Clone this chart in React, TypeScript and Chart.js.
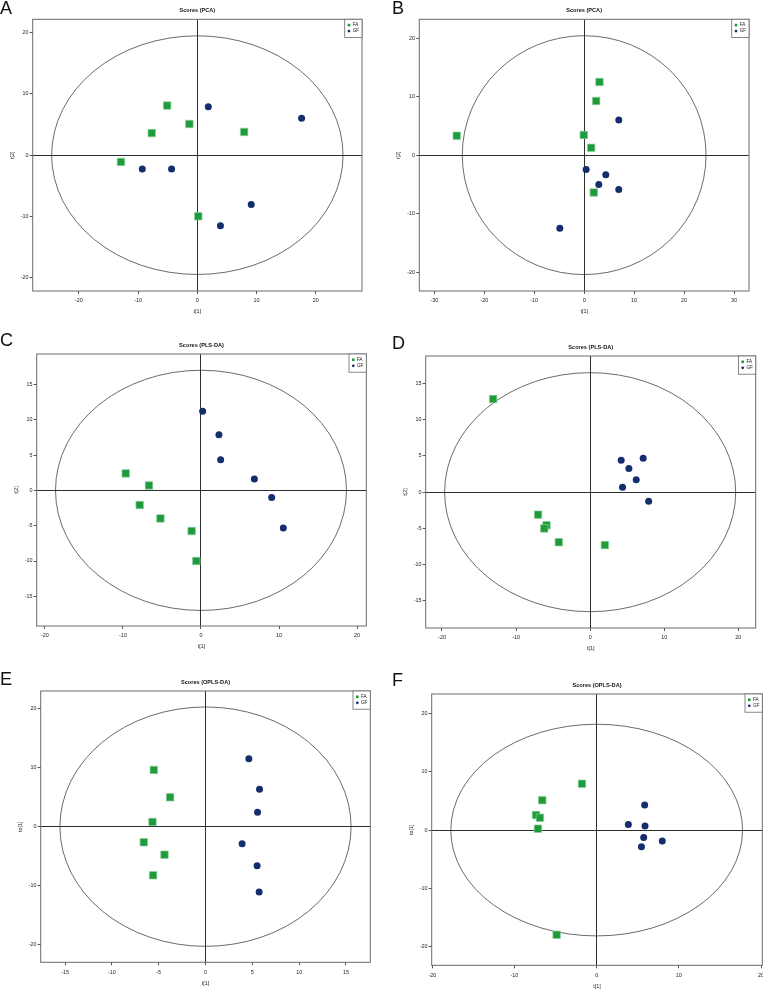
import React, { useEffect, useRef } from 'react';
import { Chart, registerables } from 'chart.js';
Chart.register(...registerables);

// ---------------- DATA ----------------
const SERIES = ['FA', 'GF'];

// Panel A: Scores (PCA)
const aFaT1 = [-5.1, -1.35, -7.7, 7.9, -12.9, 0.15];
const aFaT2 = [8.1, 5.1, 3.6, 3.8, -1.1, -10.0];
const aGfT1 = [1.85, 17.6, -9.3, -4.35, 9.1, 3.9];
const aGfT2 = [7.9, 6.05, -2.25, -2.25, -8.07, -11.55];
const aXLim = [-27.8, 27.8];
const aYLim = [-22.2, 22.2];
const aXTicks = [-20, -10, 0, 10, 20];
const aYTicks = [-20, -10, 0, 10, 20];
const aEllipse = [24.6, 19.5];

// Panel B: Scores (PCA)
const bFaT1 = [-25.5, 3.07, 2.4, -0.07, 1.4, 1.93];
const bFaT2 = [3.3, 12.5, 9.25, 3.45, 1.25, -6.37];
const bGfT1 = [6.93, 0.4, 4.33, 2.93, 6.93, -4.87];
const bGfT2 = [6.0, -2.45, -3.36, -5.0, -5.85, -12.5];
const bXLim = [-33, 33];
const bYLim = [-23.2, 23.2];
const bXTicks = [-30, -20, -10, 0, 10, 20, 30];
const bYTicks = [-20, -10, 0, 10, 20];
const bEllipse = [24.4, 20.4];

// Panel C: Scores (PLS-DA)
const cFaT1 = [-9.65, -6.67, -7.86, -5.2, -1.2, -0.6];
const cFaT2 = [2.4, 0.7, -2.08, -3.97, -5.76, -10.0];
const cGfT1 = [0.21, 2.3, 2.52, 6.84, 9.06, 10.55];
const cGfT2 = [11.18, 7.87, 4.33, 1.6, -1.0, -5.33];
const cXLim = [-21.06, 21.19];
const cYLim = [-19.2, 19.3];
const cXTicks = [-20, -10, 0, 10, 20];
const cYTicks = [-15, -10, -5, 0, 5, 10, 15];
const cEllipse = [18.65, 17.0];

// Panel D: Scores (PLS-DA)
const dFaT1 = [-13.1, -7.03, -5.9, -6.2, -4.23, 1.99];
const dFaT2 = [12.85, -3.1, -4.56, -5.0, -6.9, -7.3];
const dGfT1 = [4.19, 7.16, 5.23, 6.22, 4.37, 7.9];
const dGfT2 = [4.42, 4.7, 3.26, 1.7, 0.69, -1.24];
const dXLim = [-22.2, 22.35];
const dYLim = [-18.75, 18.8];
const dXTicks = [-20, -10, 0, 10, 20];
const dYTicks = [-15, -10, -5, 0, 5, 10, 15];
const dEllipse = [19.65, 16.5];

// Panel E: Scores (OPLS-DA)
const eFaT1 = [-5.52, -3.78, -5.66, -6.59, -4.38, -5.6];
const eFaTo = [9.6, 4.97, 0.8, -2.64, -4.74, -8.22];
const eGfT1 = [4.63, 5.77, 5.56, 3.91, 5.51, 5.73];
const eGfTo = [11.5, 6.33, 2.43, -2.88, -6.6, -11.05];
const eXLim = [-17.6, 17.6];
const eYLim = [-22.95, 22.95];
const eXTicks = [-15, -10, -5, 0, 5, 10, 15];
const eYTicks = [-20, -10, 0, 10, 20];
const eEllipse = [15.55, 20.25];

// Panel F: Scores (OPLS-DA)
const fFaT1 = [-1.79, -6.62, -7.38, -6.9, -7.14, -4.87];
const fFaTo = [7.96, 5.15, 2.58, 2.12, 0.23, -18.0];
const fGfT1 = [5.84, 3.85, 5.88, 5.72, 7.98, 5.45];
const fGfTo = [4.3, 0.97, 0.69, -1.26, -1.89, -2.86];
const fXLim = [-20.07, 20.15];
const fYLim = [-23.25, 23.4];
const fXTicks = [-20, -10, 0, 10, 20];
const fYTicks = [-20, -10, 0, 10, 20];
const fEllipse = [17.75, 18.2];

// ---------------- STYLE / LAYOUT ----------------
const FONT = '"Liberation Sans", Arial, Helvetica, sans-serif';
const GREEN = '#1f9a3c';
const GREEN_EDGE = '#8fd09c';
const NAVY = '#142d6c';

type Box = { l: number; t: number; r: number; b: number };
type Spec = {
  letter: string;
  letterPos: [number, number];
  title: string;
  xLabel: string;
  yLabel: string;
  faX: number[]; faY: number[]; gfX: number[]; gfY: number[];
  xLim: number[]; yLim: number[]; xTicks: number[]; yTicks: number[];
  ellipse: number[];
  box: Box;
};

const PANELS: Spec[] = [
  { letter: 'A', letterPos: [0, 1.5], title: 'Scores (PCA)', xLabel: 't[1]', yLabel: 't[2]',
    faX: aFaT1, faY: aFaT2, gfX: aGfT1, gfY: aGfT2, xLim: aXLim, yLim: aYLim, xTicks: aXTicks, yTicks: aYTicks,
    ellipse: aEllipse, box: { l: 32.7, t: 19.3, r: 362, b: 291 } },
  { letter: 'B', letterPos: [392, 1.5], title: 'Scores (PCA)', xLabel: 't[1]', yLabel: 't[2]',
    faX: bFaT1, faY: bFaT2, gfX: bGfT1, gfY: bGfT2, xLim: bXLim, yLim: bYLim, xTicks: bXTicks, yTicks: bYTicks,
    ellipse: bEllipse, box: { l: 419.3, t: 19.3, r: 749, b: 291 } },
  { letter: 'C', letterPos: [0, 333], title: 'Scores (PLS-DA)', xLabel: 't[1]', yLabel: 't[2]',
    faX: cFaT1, faY: cFaT2, gfX: cGfT1, gfY: cGfT2, xLim: cXLim, yLim: cYLim, xTicks: cXTicks, yTicks: cYTicks,
    ellipse: cEllipse, box: { l: 36.7, t: 354, r: 366.3, b: 626 } },
  { letter: 'D', letterPos: [392, 336], title: 'Scores (PLS-DA)', xLabel: 't[1]', yLabel: 't[2]',
    faX: dFaT1, faY: dFaT2, gfX: dGfT1, gfY: dGfT2, xLim: dXLim, yLim: dYLim, xTicks: dXTicks, yTicks: dYTicks,
    ellipse: dEllipse, box: { l: 425.7, t: 356, r: 755.7, b: 628 } },
  { letter: 'E', letterPos: [0, 672], title: 'Scores (OPLS-DA)', xLabel: 't[1]', yLabel: 'to[1]',
    faX: eFaT1, faY: eFaTo, gfX: eGfT1, gfY: eGfTo, xLim: eXLim, yLim: eYLim, xTicks: eXTicks, yTicks: eYTicks,
    ellipse: eEllipse, box: { l: 40.7, t: 691, r: 370.3, b: 962.3 } },
  { letter: 'F', letterPos: [392, 673], title: 'Scores (OPLS-DA)', xLabel: 't[1]', yLabel: 'to[1]',
    faX: fFaT1, faY: fFaTo, gfX: fGfT1, gfY: fGfTo, xLim: fXLim, yLim: fYLim, xTicks: fXTicks, yTicks: fYTicks,
    ellipse: fEllipse, box: { l: 431.7, t: 694, r: 762.3, b: 965.3 } },
];

const TICK_FONT = { family: FONT, size: 5.4 };

function Panel({ spec }: { spec: Spec }) {
  const ref = useRef<HTMLCanvasElement>(null);
  const { box } = spec;
  const cl = Math.floor(box.l - 36);
  const ct = Math.floor(box.t - 22);
  const cw = Math.ceil(box.r + 6) - cl;
  const ch = Math.ceil(box.b + 28) - ct;
  const yAxisW = box.l - cl;
  const topPad = box.t - ct;
  const rightPad = cl + cw - box.r;
  const xAxisH = ct + ch - box.b;

  useEffect(() => {
    const canvas = ref.current;
    if (!canvas) return;
    const decor = {
      id: 'decor',
      beforeDatasetsDraw(chart: any) {
        const { ctx, chartArea: a, scales } = chart;
        const x = scales.x, y = scales.y;
        const cx = x.getPixelForValue(0), cy = y.getPixelForValue(0);
        const rx = Math.abs(x.getPixelForValue(spec.ellipse[0]) - cx);
        const ry = Math.abs(y.getPixelForValue(spec.ellipse[1]) - cy);
        ctx.save();
        ctx.strokeStyle = '#3a3a3a';
        ctx.lineWidth = 0.75;
        ctx.beginPath();
        ctx.ellipse(cx, cy, rx, ry, 0, 0, Math.PI * 2);
        ctx.stroke();
        ctx.strokeStyle = '#6a6a6a';
        ctx.lineWidth = 1;
        ctx.strokeRect(a.left, a.top, a.right - a.left, a.bottom - a.top);
        ctx.fillStyle = '#111';
        ctx.font = `bold 5.6px ${FONT}`;
        ctx.textAlign = 'center';
        ctx.textBaseline = 'middle';
        ctx.fillText(spec.title, (a.left + a.right) / 2, a.top - 8.5);
        ctx.restore();
      },
      afterDatasetsDraw(chart: any) {
        const { ctx, chartArea: a } = chart;
        const bw = 17.3, bh = 18.2;
        const bx = a.right - bw, by = a.top;
        ctx.save();
        ctx.fillStyle = '#fff';
        ctx.fillRect(bx, by, bw, bh);
        ctx.strokeStyle = '#6a6a6a';
        ctx.lineWidth = 0.8;
        ctx.strokeRect(bx, by, bw, bh);
        const sx = bx + 4.3;
        const y1 = by + 5.8, y2 = by + 11.8;
        ctx.fillStyle = GREEN;
        ctx.fillRect(sx - 1.3, y1 - 1.3, 2.6, 2.6);
        ctx.fillStyle = NAVY;
        ctx.beginPath();
        ctx.arc(sx, y2, 1.35, 0, Math.PI * 2);
        ctx.fill();
        ctx.fillStyle = '#222';
        ctx.font = `4.6px ${FONT}`;
        ctx.textAlign = 'left';
        ctx.textBaseline = 'middle';
        ctx.fillText(SERIES[0], bx + 8, y1);
        ctx.fillText(SERIES[1], bx + 8, y2);
        ctx.restore();
      },
    };

    const gridColor = (c: any) => (c.tick && c.tick.value === 0 ? '#2e2e2e' : 'rgba(0,0,0,0)');

    const chart = new Chart(canvas, {
      type: 'scatter',
      data: {
        datasets: [
          {
            label: SERIES[0],
            data: spec.faX.map((v, i) => ({ x: v, y: spec.faY[i] })),
            pointStyle: 'rect',
            pointRadius: 5.3,
            backgroundColor: GREEN,
            borderColor: GREEN_EDGE,
            borderWidth: 0.7,
          },
          {
            label: SERIES[1],
            data: spec.gfX.map((v, i) => ({ x: v, y: spec.gfY[i] })),
            pointStyle: 'circle',
            pointRadius: 3.5,
            backgroundColor: NAVY,
            borderColor: NAVY,
            borderWidth: 0,
          },
        ],
      },
      options: {
        responsive: false,
        animation: false,
        devicePixelRatio: 1,
        layout: { padding: { left: 0, top: topPad, right: rightPad, bottom: 0 } },
        plugins: { legend: { display: false }, tooltip: { enabled: false }, title: { display: false } },
        scales: {
          x: {
            type: 'linear',
            position: 'bottom',
            min: spec.xLim[0],
            max: spec.xLim[1],
            afterBuildTicks: (s: any) => { s.ticks = spec.xTicks.map((v) => ({ value: v })); },
            afterFit: (s: any) => { s.height = xAxisH; s.paddingLeft = 0; s.paddingRight = 0; },
            grid: { color: gridColor, lineWidth: 1, tickLength: 3, tickColor: '#555', drawOnChartArea: true },
            border: { display: false },
            ticks: { font: TICK_FONT, color: '#222', padding: 3.5, autoSkip: false, maxRotation: 0, minRotation: 0 },
            title: { display: true, text: spec.xLabel, font: TICK_FONT, color: '#222', padding: { top: 0, bottom: xAxisH - 21 - 3.24 } },
          },
          y: {
            type: 'linear',
            position: 'left',
            min: spec.yLim[0],
            max: spec.yLim[1],
            afterBuildTicks: (s: any) => { s.ticks = spec.yTicks.map((v) => ({ value: v })); },
            afterFit: (s: any) => { s.width = yAxisW; s.paddingTop = 0; s.paddingBottom = 0; },
            grid: { color: gridColor, lineWidth: 1, tickLength: 3, tickColor: '#555', drawOnChartArea: true },
            border: { display: false },
            ticks: { font: TICK_FONT, color: '#222', padding: 1.2, autoSkip: false },
            title: { display: true, text: spec.yLabel, font: TICK_FONT, color: '#222', padding: { top: yAxisW - 20.5 - 3.24, bottom: 0 } },
          },
        },
      },
      plugins: [decor],
    } as any);
    return () => chart.destroy();
  }, []);

  return (
    <canvas
      ref={ref}
      width={cw}
      height={ch}
      style={{ position: 'absolute', left: cl, top: ct, width: cw, height: ch }}
    />
  );
}

export default function App() {
  return (
    <div style={{ position: 'absolute', left: 0, top: 0, width: 763, height: 989, overflow: 'hidden', background: '#fff' }}>
      {PANELS.map((p) => (
        <Panel key={p.letter} spec={p} />
      ))}
      {PANELS.map((p) => (
        <div
          key={'L' + p.letter}
          style={{
            position: 'absolute',
            left: p.letterPos[0],
            top: p.letterPos[1] - 2.3,
            fontFamily: FONT,
            fontSize: 18,
            lineHeight: '18px',
            color: '#111',
          }}
        >
          {p.letter}
        </div>
      ))}
    </div>
  );
}
